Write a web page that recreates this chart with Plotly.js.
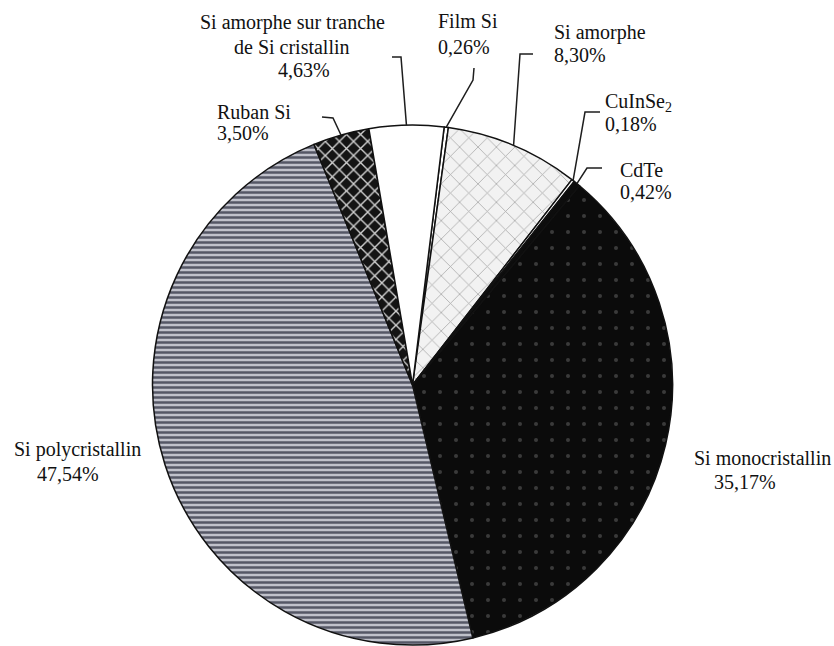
<!DOCTYPE html>
<html>
<head>
<meta charset="utf-8">
<script src="https://cdn.plot.ly/plotly-3.0.1.min.js"></script>
<style>
  html, body { margin: 0; padding: 0; background: #fff; overflow: hidden; }
  #chart { width: 834px; height: 646px; }
</style>
</head>
<body>
<div id="chart"></div>
<script>
// Photovoltaic production by technology, listed clockwise from the top
const categories = [
  'Film Si',
  'Si amorphe',
  'CuInSe<sub>2</sub>',
  'CdTe',
  'Si monocristallin',
  'Si polycristallin',
  'Ruban Si',
  'Si amorphe sur tranche\nde Si cristallin'
];
const shares = [0.26, 8.30, 0.18, 0.42, 35.17, 47.54, 3.50, 4.63];

// Fill style of each slice (hatching in the spirit of a printed figure)
const sliceBg    = ['#ffffff', '#f2f2f2', '#ffffff', '#0d0d0d', '#0b0b0b', '#c0c1cb', '#141414', '#ffffff'];
const sliceShape = ['',        'x',       '',        '',        '.',       '-',       'x',       ''];
const sliceFg    = ['#000000', '#a9a9a9', '#000000', '#000000', '#3a3a3a', '#555766', '#d2d2d2', '#000000'];
const sliceSize  = [8,         13,        8,         8,         16,        5,         10,        8];
const sliceSolid = [0.3,       0.12,      0.3,       0.3,       0.05,      0.5,       0.25,      0.3];

// Page geometry (pixels)
const W = 834, H = 646;
const cx = 412.5, cy = 385, R = 260;
const startAngle = 7;   // first slice starts 7 degrees clockwise from 12 o'clock

// Label placement: [x, y] of the name line and of the percentage line, plus anchoring
const namePos   = [[436, 21], [552, 32], [603, 102], [618, 170], [692, 458], [12, 449], [215, 112], [292, 23]];
const pctPos    = [[436, 47], [552, 55], [603, 124], [618, 192], [712, 482], [35, 474], [215, 133], [304, 70]];
const labelAnch = ['left', 'left', 'left', 'left', 'left', 'left', 'left', 'center'];
const lineStep  = 24;

// Leader lines: the polyline drawn from each label before it reaches its slice
const leaderElbows = [
  [[474, 68], [473, 80]],
  [[533, 54], [520, 54]],
  [[600, 112], [585, 112]],
  [[602, 168], [587, 168]],
  null,
  null,
  [[322, 117], [333, 118]],
  [[392, 57], [401, 57]]
];

const fmtPct = v => v.toFixed(2).replace('.', ',') + '%';
const px2x = p => p / W;
const py2y = p => 1 - p / H;
const font = { family: 'Liberation Serif', size: 20, color: '#111111' };

const total = shares.reduce((a, b) => a + b, 0);
const annotations = [];
const shapes = [];
let cum = 0;
shares.forEach((v, i) => {
  const mid = (startAngle + 360 * (cum + v / 2) / total) * Math.PI / 180;
  cum += v;
  const ex = cx + R * Math.sin(mid);
  const ey = cy - R * Math.cos(mid);

  const lines = categories[i].split('\n');
  lines.forEach((t, k) => {
    annotations.push({
      text: t, showarrow: false, xref: 'paper', yref: 'paper',
      x: px2x(namePos[i][0]), y: py2y(namePos[i][1] + k * lineStep),
      xanchor: labelAnch[i], yanchor: 'middle', font: font
    });
  });
  annotations.push({
    text: fmtPct(v), showarrow: false, xref: 'paper', yref: 'paper',
    x: px2x(pctPos[i][0]), y: py2y(pctPos[i][1]),
    xanchor: labelAnch[i], yanchor: 'middle', font: font
  });

  if (leaderElbows[i]) {
    const pts = leaderElbows[i].concat([[ex, ey]]);
    const path = pts.map((p, k) => (k ? 'L' : 'M') + px2x(p[0]) + ',' + py2y(p[1])).join(' ');
    shapes.push({
      type: 'path', xref: 'paper', yref: 'paper', path: path,
      line: { color: '#1e1e1e', width: 1.5 }
    });
  }
});

const trace = {
  type: 'pie',
  labels: categories.map(c => c.replace('\n', ' ')),
  values: shares,
  sort: false,
  direction: 'clockwise',
  rotation: startAngle,
  textinfo: 'none',
  hoverinfo: 'label+percent',
  domain: { x: [px2x(cx - R), px2x(cx + R)], y: [py2y(cy + R), py2y(cy - R)] },
  marker: {
    colors: sliceBg,
    line: { color: '#111111', width: 1.5 },
    pattern: {
      shape: sliceShape,
      bgcolor: sliceBg,
      fgcolor: sliceFg,
      size: sliceSize,
      solidity: sliceSolid,
      fillmode: 'replace'
    }
  }
};

const layout = {
  width: W, height: H,
  margin: { l: 0, r: 0, t: 0, b: 0 },
  paper_bgcolor: '#ffffff',
  showlegend: false,
  annotations: annotations,
  shapes: shapes
};

Plotly.newPlot('chart', [trace], layout, { displayModeBar: false, staticPlot: true });
</script>
</body>
</html>
